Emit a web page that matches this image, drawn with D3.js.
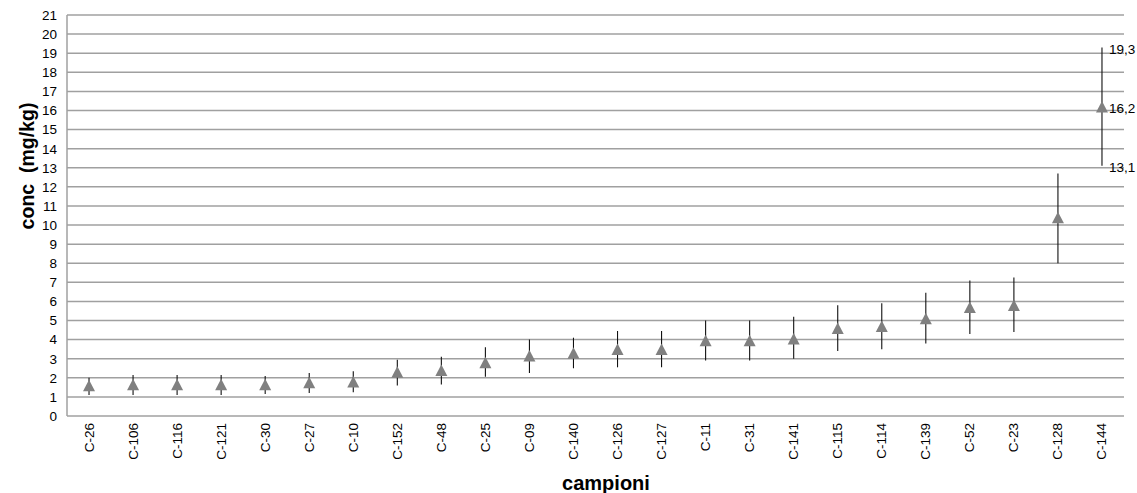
<!DOCTYPE html>
<html>
<head>
<meta charset="utf-8">
<script src="https://cdn.jsdelivr.net/npm/d3@7"></script>
<style>
  html, body { margin: 0; padding: 0; background: #fff; }
  svg { display: block; font-family: "Liberation Sans", Arial, sans-serif; }
</style>
</head>
<body>
<svg id="chart" width="1137" height="493"></svg>
<script>
// Samples, ordered by mean concentration
const categories = ["C-26","C-106","C-116","C-121","C-30","C-27","C-10","C-152","C-48","C-25",
  "C-09","C-140","C-126","C-127","C-11","C-31","C-141","C-115","C-114","C-139","C-52","C-23","C-128","C-144"];
// Mean concentration (mg/kg)
const values = [1.6,1.65,1.65,1.65,1.65,1.75,1.8,2.3,2.4,2.8,
  3.15,3.3,3.5,3.5,3.95,3.95,4.05,4.6,4.7,5.1,5.7,5.8,10.4,16.2];
// Lower and upper bounds of the interval
const lower = [1.1,1.1,1.1,1.1,1.15,1.2,1.25,1.6,1.65,2.05,
  2.25,2.5,2.55,2.55,2.9,2.9,3.0,3.4,3.5,3.8,4.3,4.4,8.0,13.1];
const upper = [2.0,2.15,2.15,2.15,2.1,2.25,2.35,2.95,3.1,3.6,
  4.0,4.1,4.45,4.45,5.0,5.0,5.2,5.8,5.9,6.45,7.1,7.25,12.7,19.3];
// Samples whose values are written next to the marker
const labelled = ["C-144"];
const yTicks = d3.range(0, 22);

const svg = d3.select("#chart");
const plot = { left: 67, right: 1124, top: 15, bottom: 416 };

const x = d3.scaleBand().domain(categories).range([plot.left, plot.right]).padding(0);
const y = d3.scaleLinear().domain([0, 21]).range([plot.bottom, plot.top]);
const cx = c => x(c) + x.bandwidth() / 2;

const gridColor = "#a0a0a0";

// Horizontal gridlines
svg.append("g")
  .selectAll("line").data(yTicks).join("line")
  .attr("x1", plot.left).attr("x2", plot.right)
  .attr("y1", d => y(d)).attr("y2", d => y(d))
  .attr("stroke", gridColor).attr("stroke-width", 1.5);

// Vertical axis line
svg.append("line")
  .attr("x1", plot.left).attr("x2", plot.left)
  .attr("y1", y(21)).attr("y2", y(0))
  .attr("stroke", gridColor).attr("stroke-width", 1.5);

// Y tick labels
svg.append("g")
  .selectAll("text").data(yTicks).join("text")
  .attr("x", 57).attr("y", d => y(d))
  .attr("dy", "0.36em")
  .attr("text-anchor", "end")
  .attr("font-size", 13.5).attr("fill", "#000")
  .text(d => d);

// X tick labels, rotated
svg.append("g")
  .selectAll("text").data(categories).join("text")
  .attr("transform", d => `translate(${cx(d) + 4.5},423) rotate(-90)`)
  .attr("text-anchor", "end")
  .attr("font-size", 13.5).attr("fill", "#000")
  .text(d => d);

// Axis titles
svg.append("text")
  .attr("transform", "translate(34,166) rotate(-90)")
  .attr("text-anchor", "middle")
  .attr("font-size", 19.5).attr("font-weight", "bold")
  .attr("xml:space", "preserve")
  .text("conc  (mg/kg)");

svg.append("text")
  .attr("x", 606).attr("y", 490)
  .attr("text-anchor", "middle")
  .attr("font-size", 20).attr("font-weight", "bold")
  .text("campioni");

const rows = categories.map((c, i) => ({ c, v: values[i], lo: lower[i], hi: upper[i] }));

// Error bars
svg.append("g")
  .selectAll("line").data(rows).join("line")
  .attr("x1", d => cx(d.c)).attr("x2", d => cx(d.c))
  .attr("y1", d => y(d.lo)).attr("y2", d => y(d.hi))
  .attr("stroke", "#111").attr("stroke-width", 1.1);

// Triangle markers
const tw = 12, th = 11.5;
svg.append("g")
  .selectAll("path").data(rows).join("path")
  .attr("transform", d => `translate(${cx(d.c)},${y(d.v)})`)
  .attr("d", `M0,${-th / 2} L${tw / 2},${th / 2} L${-tw / 2},${th / 2} Z`)
  .attr("fill", "#808080");

// Value labels for the highlighted sample
const fmt = v => String(v).replace(".", ",");
const labelRows = rows.filter(d => labelled.includes(d.c));
labelRows.forEach(d => {
  svg.append("g")
    .selectAll("text").data([d.hi, d.v, d.lo]).join("text")
    .attr("x", cx(d.c) + 7).attr("y", v => y(v))
    .attr("dy", "0.45em")
    .attr("font-size", 13.5).attr("fill", "#000")
    .text(v => fmt(v));
});
</script>
</body>
</html>
